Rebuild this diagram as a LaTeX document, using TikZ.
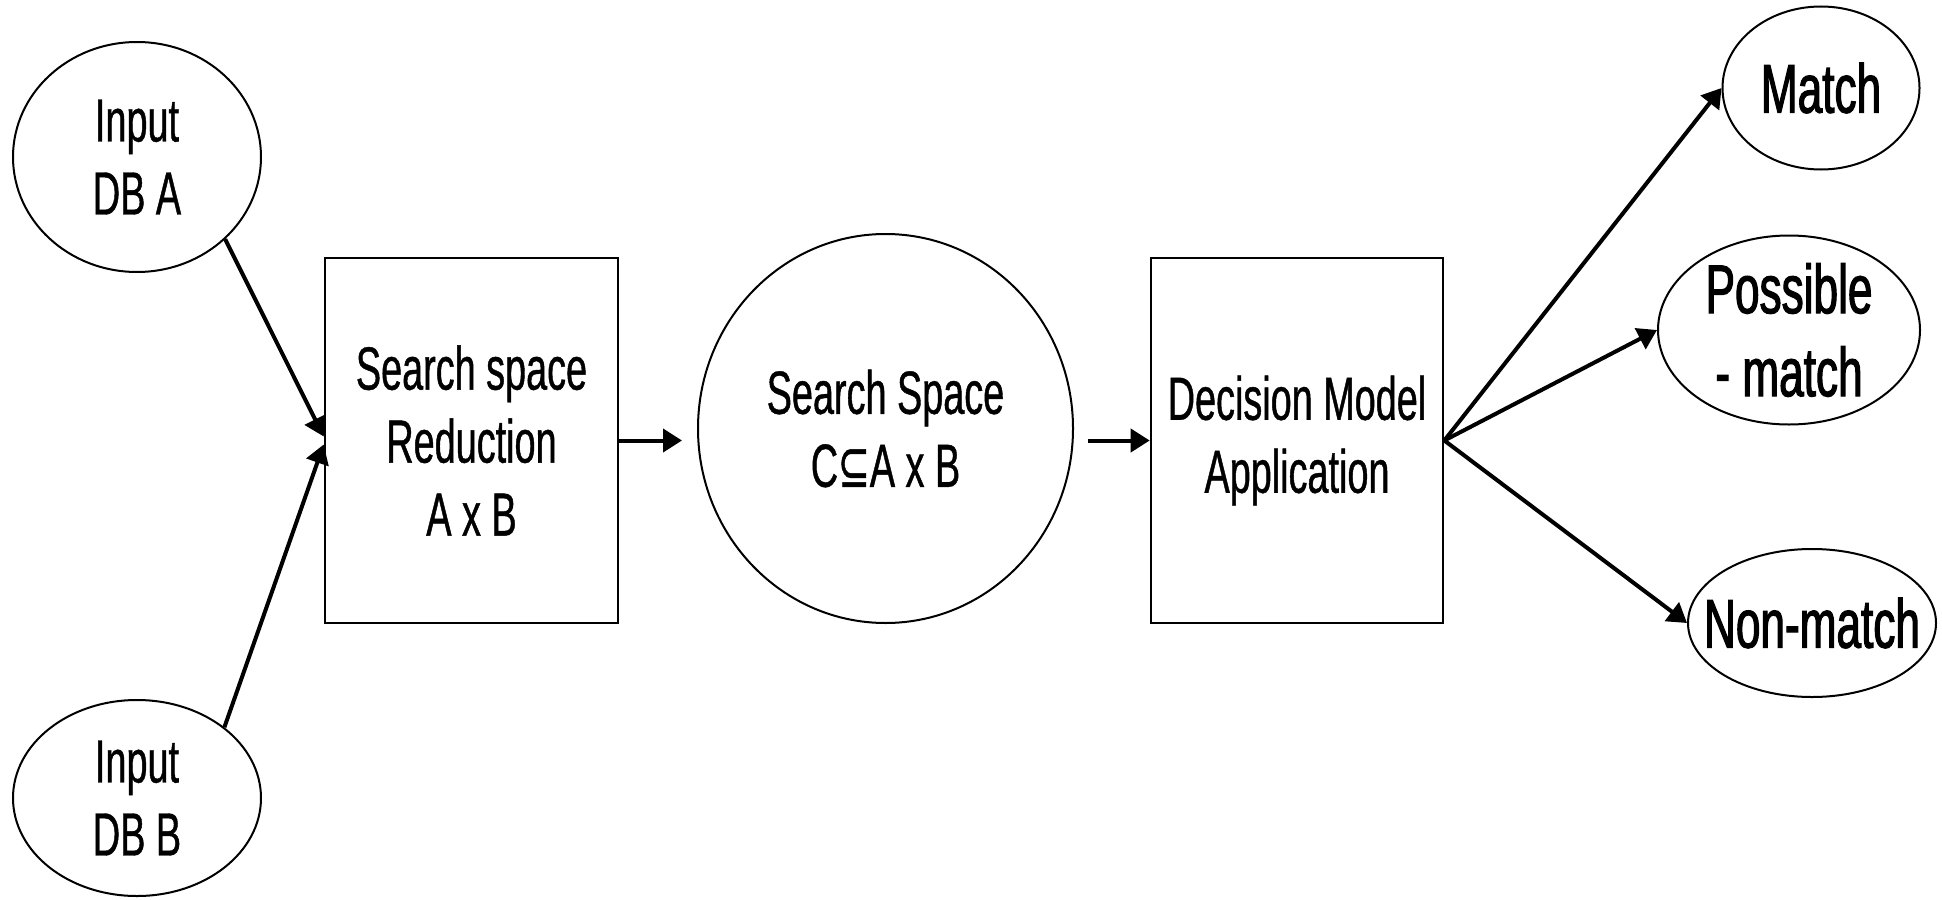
\documentclass[tikz,border=0pt]{standalone}
\usepackage{fontspec}
\setmainfont[FakeStretch=0.62,FakeBold=0.7]{Liberation Sans}
\newfontfamily\outfont[FakeStretch=0.64,FakeBold=1.6]{Liberation Sans}
\newfontfamily\symfont[FakeStretch=0.62,FakeBold=0.7]{DejaVu Sans}
\usetikzlibrary{shapes.geometric,arrows.meta}

\tikzset{
  body/.style={font=\fontsize{30.5pt}{36.5pt}\selectfont, align=center, inner sep=0pt},
  outcome/.style={font=\outfont\fontsize{34.5pt}{41.5pt}\selectfont, align=center, inner sep=0pt,
                  ellipse, draw, line width=1pt},
  dbnode/.style={body, ellipse, draw, line width=1pt},
  stagebox/.style={body, rectangle, draw, line width=1.3pt},
  flow/.style={line width=2pt, -{Triangle[length=9.5pt,width=11.5pt]}},
}

\begin{document}
\begin{tikzpicture}[x=0.5pt,y=-0.5pt]
  \useasboundingbox (0,0) rectangle (1942,899);

  % inputs
  \node[dbnode, minimum width=124pt, minimum height=115pt] (A) at (137,157) {Input\\DB A};
  \node[dbnode, minimum width=124pt, minimum height=98pt]  (B) at (137,798) {Input\\DB B};

  % processing stages
  \node[stagebox, minimum width=146.5pt, minimum height=182.5pt] (R) at (471.5,440.5)
       {Search space\\Reduction\\A x B};
  \node[dbnode, minimum width=187.5pt, minimum height=194.5pt] (S) at (885.5,428.5)
       {Search Space\\C{\symfont ⊆}A x B};
  \node[stagebox, minimum width=146pt, minimum height=182.5pt] (D) at (1297,440.5)
       {Decision Model\\Application};

  % outcomes
  \node[outcome, minimum width=98.5pt, minimum height=81.5pt] (M) at (1821,88)  {Match};
  \node[outcome, minimum width=131pt, minimum height=94.5pt, inner ysep=-4pt] (P) at (1789,330)
       {Possible\\- match};
  \node[outcome, minimum width=124pt, minimum height=74pt, inner xsep=-12pt] (N) at (1812,623)
       {Non-match};

  % connectors
  \draw[flow] (A.-43) -- ([yshift=2pt]R.west);
  \draw[flow] (B.39)  -- ([yshift=-2pt]R.west);
  \draw[flow, shorten >=7.5pt] (R.east) -- (R.east -| S.west);
  \draw[flow, shorten <=7pt] (D.west -| S.east) -- (D.west);
  \draw[flow] (D.east) -- (M.west);
  \draw[flow] (D.east) -- (P.west);
  \draw[flow] (D.east) -- (N.west);
\end{tikzpicture}
\end{document}
